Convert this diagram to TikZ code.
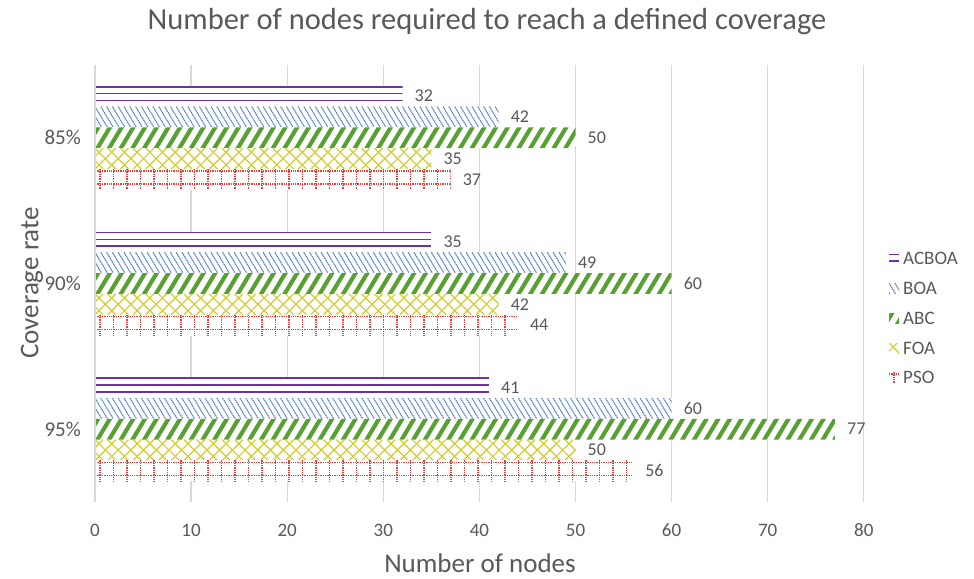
\documentclass[tikz,border=0pt]{standalone}
\usepackage{fontspec}
\setmainfont{Carlito}
\definecolor{txt}{HTML}{595959}
\definecolor{gridc}{HTML}{D9D9D9}
\definecolor{cPur}{HTML}{7030A0}
\definecolor{cBlu}{HTML}{4F7BC8}
\definecolor{cGrn}{HTML}{58A032}
\definecolor{cYel}{HTML}{D2CE2C}
\definecolor{cRed}{HTML}{EE3A3A}
\tikzset{
  gridl/.style={draw=gridc, line width=1.3pt},
  vlabel/.style={font=\fontsize{18}{21}\selectfont, text=txt, inner sep=0pt, anchor=west},
  ticklbl/.style={font=\fontsize{19}{22}\selectfont, text=txt, inner sep=0pt},
  catlbl/.style={font=\fontsize{21}{25}\selectfont, text=txt, inner sep=0pt, anchor=east},
  axtitle/.style={font=\fontsize{27}{32}\selectfont, text=txt, inner sep=0pt},
  legtxt/.style={font=\fontsize{19}{23}\selectfont, text=txt, inner sep=0pt, anchor=west},
}
% #1 x0, #2 top, #3 x1, #4 height
\newcommand\pACBOA[4]{%
  \fill[white] ({#1},{#2}) rectangle ({#3},{#2+#4});
  \begin{scope}\clip ({#1},{#2}) rectangle ({#3},{#2+#4});
  \foreach \o in {1,7.8,14.6} \draw[cPur, line width=1.6pt] ({#1},{#2+\o}) -- ({#3},{#2+\o});
  \end{scope}}
\newcommand\pBOA[4]{%
  \fill[white] ({#1},{#2}) rectangle ({#3},{#2+#4});
  \begin{scope}\clip ({#1},{#2}) rectangle ({#3},{#2+#4});
  \foreach \k in {-4,...,140} \draw[cBlu, line width=1pt, dash pattern=on 1.6pt off 0.6pt] ({#1+\k*5.8},{#2}) -- ++(12.5,20.8);
  \end{scope}}
\newcommand\pABC[4]{%
  \fill[white] ({#1},{#2}) rectangle ({#3},{#2+#4});
  \begin{scope}\clip ({#1},{#2}) rectangle ({#3},{#2+#4});
  \foreach \k in {-3,...,70} \fill[cGrn] ({#1+\k*11.7},{#2+20.8}) -- ++(4.8,0) -- ++(12.5,-20.8) -- ++(-4.8,0) -- cycle;
  \end{scope}}
\newcommand\pFOA[4]{%
  \fill[white] ({#1},{#2}) rectangle ({#3},{#2+#4});
  \begin{scope}\clip ({#1},{#2}) rectangle ({#3},{#2+#4});
  \foreach \k in {-3,...,65} {
    \draw[cYel, line width=1.2pt] ({#1+\k*12.7},{#2}) -- ++(20.8,20.8);
    \draw[cYel, line width=1.2pt] ({#1+\k*12.7},{#2+20.8}) -- ++(20.8,-20.8);}
  \end{scope}}
\newcommand\pPSO[4]{%
  \fill[white] ({#1},{#2}) rectangle ({#3},{#2+#4});
  \begin{scope}\clip ({#1},{#2}) rectangle ({#3},{#2+#4});
  \draw[cRed, line width=1.5pt, dash pattern=on 1.3pt off 1pt] ({#1},{#2+2}) -- ({#3},{#2+2});
  \draw[cRed, line width=1.5pt, dash pattern=on 1.3pt off 1pt] ({#1},{#2+15}) -- ({#3},{#2+15});
  \foreach \k in {0,...,60} \draw[cRed, line width=1.5pt, dash pattern=on 1.3pt off 1pt] ({#1+5+\k*13.5},{#2}) -- ++(0,20.8);
  \end{scope}}
\begin{document}
\begin{tikzpicture}[x=1pt,y=-1pt]
\useasboundingbox (0,0) rectangle (974,578);
\fill[white] (0,0) rectangle (974,578);
% title
\node[axtitle, font=\fontsize{30.5}{34}\selectfont] (title) at (487,22) {Number of nodes required to reach a defined coverage};
% gridlines and tick labels
\foreach \v in {0,10,...,80} {
  \draw[gridl] ({95+9.61*\v},65) -- ({95+9.61*\v},502);
  \node[ticklbl] (tick\v) at ({95+9.61*\v},530) {\v};
}
% bars
\foreach \c/\lab/\a/\b/\d/\e/\f [count=\i] in {137.8/85\%/32/42/50/35/37, 283.5/90\%/35/49/60/42/44, 429.2/95\%/41/60/77/50/56} {
  \pgfmathsetmacro\t{\c-52}
  \pACBOA{95}{\t}{95+9.61*\a}{20.8}
  \pBOA{95}{\t+20.8}{95+9.61*\b}{20.8}
  \pABC{95}{\t+41.6}{95+9.61*\d}{20.8}
  \pFOA{95}{\t+62.4}{95+9.61*\e}{20.8}
  \pPSO{95}{\t+83.2}{95+9.61*\f}{20.8}
  \node[vlabel] (la\i) at ({95+9.61*\a+12},{\t+10.4}) {\a};
  \node[vlabel] (lb\i) at ({95+9.61*\b+12},{\t+31.2}) {\b};
  \node[vlabel] (lc\i) at ({95+9.61*\d+12},{\t+52}) {\d};
  \node[vlabel] (ld\i) at ({95+9.61*\e+12},{\t+72.8}) {\e};
  \node[vlabel] (le\i) at ({95+9.61*\f+12},{\t+93.6}) {\f};
  \node[catlbl] (cat\i) at (81,\c) {\lab};
}
% axis line
\draw[gridl] (95,65) -- (95,502);
% axis titles
\node[axtitle, rotate=90] (ytitle) at (32,283) {Coverage rate};
\node[axtitle] (xtitle) at (480,563) {Number of nodes};
% legend
\pACBOA{889}{253.3}{899}{10}
\node[legtxt] (lg1) at (903,258.3) {ACBOA};
\pBOA{889}{283}{899}{10}
\node[legtxt] (lg2) at (903,288) {BOA};
\pABC{889}{313}{899}{10}
\node[legtxt] (lg3) at (903,318) {ABC};
\pFOA{889}{343}{899}{10}
\node[legtxt] (lg4) at (903,348) {FOA};
\pPSO{889}{372}{899}{10}
\node[legtxt] (lg5) at (903,377) {PSO};
\end{tikzpicture}
\end{document}
